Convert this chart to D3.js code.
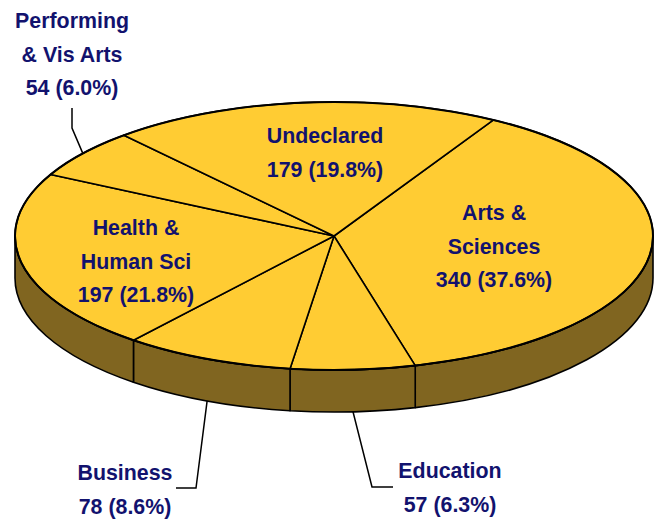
<!DOCTYPE html>
<html><head><meta charset="utf-8">
<script src="https://cdn.jsdelivr.net/npm/d3@7"></script>
<style>
html,body{margin:0;padding:0;background:#fff;}
text{font-family:"Liberation Sans",Arial,sans-serif;font-weight:bold;fill:#12126E;}
</style></head>
<body><svg id="c" width="658" height="519"></svg>
<script>
// Data
const categories = ["Arts & Sciences","Education","Business","Health & Human Sci","Performing & Vis Arts","Undeclared"];
const counts = [340, 57, 78, 197, 54, 179];
const percents = ["37.6%","6.3%","8.6%","21.8%","6.0%","19.8%"];
const labelLines = [["Arts &","Sciences"],["Education"],["Business"],["Health &","Human Sci"],["Performing","& Vis Arts"],["Undeclared"]];

const W = 658, H = 519;
const cx = 334, cy = 236, rx = 319, ry = 134, depth = 42;
const topColor = "#FFCC33", sideColor = "#806520";
const svg = d3.select("#c");

const pie = d3.pie().sort(null).value(d => d).startAngle(Math.PI/6).endAngle(Math.PI/6 + 2*Math.PI);
const arcs = pie(counts);

const P = (a, dy=0) => [cx + rx*Math.sin(a), cy - ry*Math.cos(a) + dy];

// sides (front half: angles PI/2 .. 3PI/2, with wrap)
const sideG = svg.append("g");
arcs.forEach(d => {
  for (const off of [0, 2*Math.PI]) {
    const s = Math.max(d.startAngle, Math.PI/2 + off), e = Math.min(d.endAngle, 3*Math.PI/2 + off);
    if (e <= s) continue;
    const p0 = P(s), p1 = P(e), q1 = P(e, depth), q0 = P(s, depth);
    const path = `M${p0}A${rx},${ry} 0 0 1 ${p1}L${q1}A${rx},${ry} 0 0 0 ${q0}Z`;
    sideG.append("path").attr("d", path).attr("fill", sideColor)
      .attr("stroke", "#000").attr("stroke-width", 1.6).attr("stroke-linejoin","round");
  }
});

// top face
const arcGen = d3.arc().innerRadius(0).outerRadius(rx);
const topG = svg.append("g").attr("transform", `translate(${cx},${cy}) scale(1,${ry/rx})`);
topG.selectAll("path").data(arcs).join("path")
  .attr("d", arcGen).attr("fill", topColor)
  .attr("stroke", "#000").attr("stroke-width", 1.6)
  .attr("stroke-linejoin","round")
  .attr("vector-effect", "non-scaling-stroke");
svg.append("ellipse").attr("cx", cx).attr("cy", cy).attr("rx", rx).attr("ry", ry)
  .attr("fill", "none").attr("stroke", "#000").attr("stroke-width", 2);

// labels: layout positions (x center, first baseline) and leader geometry
const labelPos = [
  {x: 494, y: 220},
  {x: 450, y: 478, leader: {onSide: true, elbow: [372, 487], end: [393, 487]}},
  {x: 125, y: 480, leader: {onSide: true, elbow: [196, 488], end: [176, 488]}},
  {x: 136, y: 235},
  {x: 72,  y: 28,  leader: {onSide: false, elbow: [72, 128], end: [72, 108]}},
  {x: 325, y: 143}
];
const lineH = 33.7;
const fs = 23;
const squeeze = 0.93;
arcs.forEach((d, i) => {
  const lp = labelPos[i];
  const lines = labelLines[i].concat([`${counts[i]} (${percents[i]})`]);
  const t = svg.append("text").attr("text-anchor", "middle").attr("font-size", fs)
    .attr("transform", `translate(${lp.x},${lp.y}) scale(${squeeze},1)`);
  lines.forEach((ln, k) => t.append("tspan").attr("x", 0).attr("y", k*lineH).text(ln));
  if (lp.leader) {
    const mid = (d.startAngle + d.endAngle)/2;
    const start = P(mid, lp.leader.onSide ? depth : 0);
    svg.append("path").attr("d", d3.line()([start, lp.leader.elbow, lp.leader.end]))
      .attr("fill", "none").attr("stroke", "#000").attr("stroke-width", 1.5);
  }
});
</script></body></html>
